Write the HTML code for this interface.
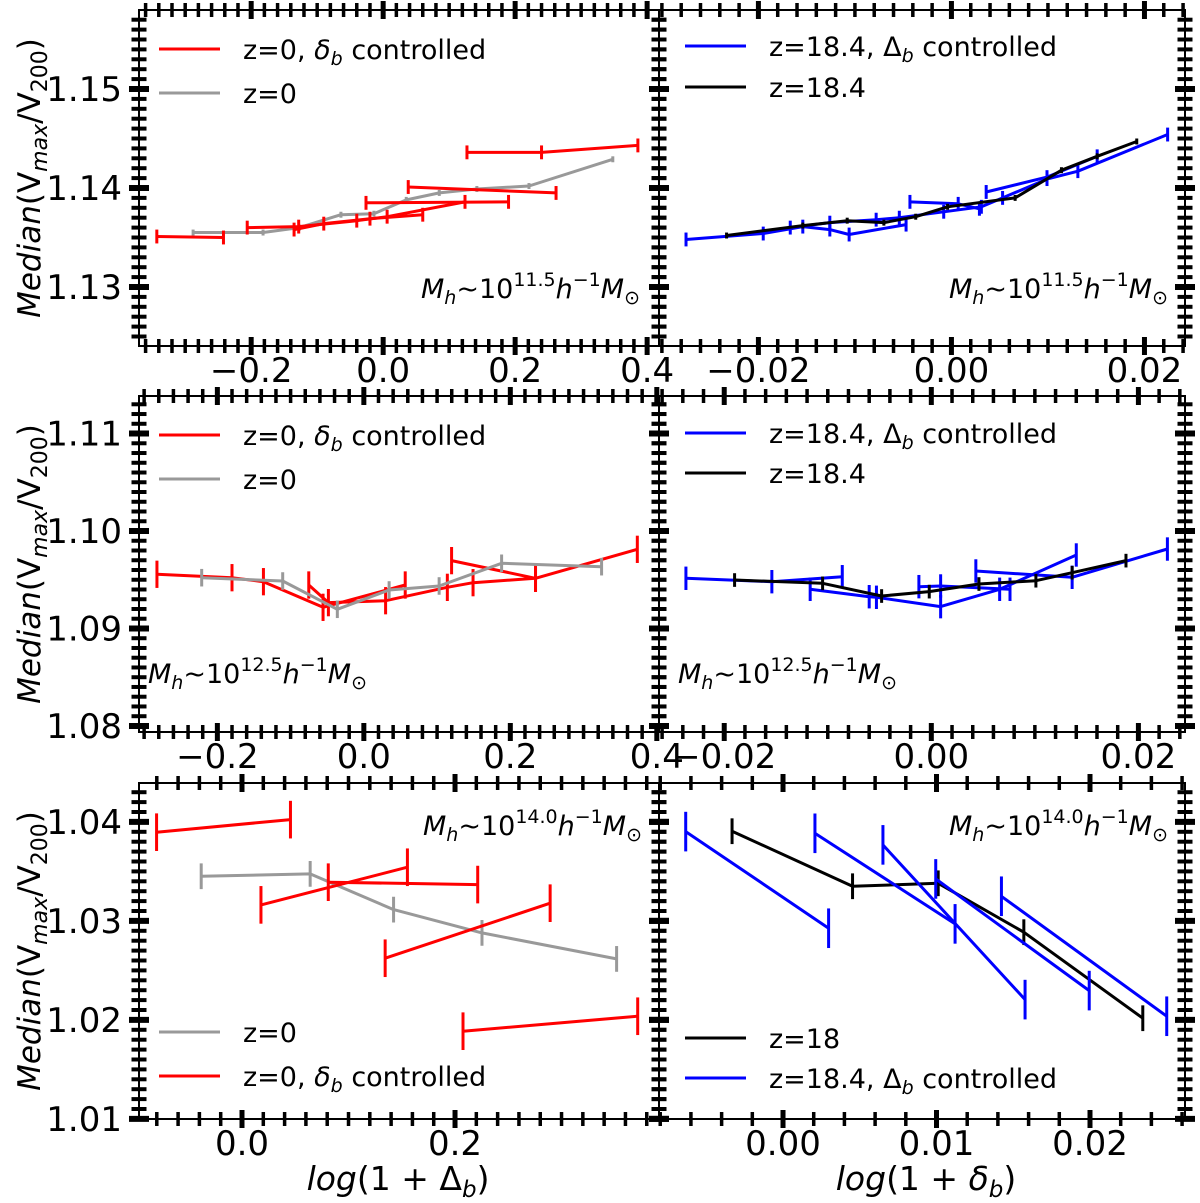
<!DOCTYPE html>
<html><head><meta charset="utf-8">
<style>
html,body{margin:0;padding:0;background:#fff;}
svg{display:block;font-family:"DejaVu Sans","Liberation Sans",sans-serif;}
</style></head>
<body>
<svg id="fig" width="1200" height="1203" viewBox="0 0 1200 1203" xmlns="http://www.w3.org/2000/svg"></svg>
<script>
// ---------- DATA ----------
// Top-left panel (Mh ~ 10^11.5, x = log(1+Delta_b))
const tlRedX = [[-0.343,-0.242],[-0.206,-0.128,-0.040,0.006,0.124],[-0.135,-0.090,-0.020,0.060],[-0.026,0.190],[0.038,0.262],[0.127,0.240,0.386]];
const tlRedY = [[1.1351,1.1350],[1.1360,1.1361,1.1367,1.1371,1.1386],[1.1358,1.1364,1.1369,1.1373],[1.1385,1.1386],[1.1401,1.1395],[1.1436,1.1436,1.1443]];
const tlGreyX = [-0.288,-0.182,-0.127,-0.064,-0.014,0.035,0.085,0.142,0.221,0.348];
const tlGreyY = [1.1355,1.1355,1.1360,1.1373,1.1374,1.1388,1.1395,1.1399,1.1402,1.1429];
// Top-right panel
const trBlueX = [[-0.0275,-0.0195,-0.0154,-0.0126,-0.0106,-0.0047],[-0.0167,-0.0126,-0.0078,-0.0054,-0.0008,0.0031,0.0053,0.0099,0.0131,0.0224],[-0.0043,0.0007,0.0029],[0.0036,0.0099,0.0151]];
const trBlueY = [[1.1348,1.1354,1.1361,1.1358,1.1353,1.1363],[1.1360,1.1365,1.1368,1.1370,1.1376,1.1381,1.1390,1.1409,1.1417,1.1454],[1.1386,1.1384,1.1379],[1.1396,1.1411,1.1432]];
const trBlackX = [-0.0233,-0.0154,-0.0108,-0.0070,-0.0037,-0.0004,0.0066,0.0114,0.0151,0.0192];
const trBlackY = [1.1352,1.1362,1.1367,1.1365,1.1371,1.1381,1.1390,1.1418,1.1432,1.1447];
// Middle-left panel (Mh ~ 10^12.5)
const mlRedX = [[-0.2825,-0.1800,-0.1371,-0.0557,0.0565],[-0.0752,-0.0484,0.0297,0.1140,0.1491,0.2344,0.3734],[0.1198,0.2344]];
const mlRedY = [[1.09556,1.09521,1.09480,1.09217,1.09446],[1.09446,1.09265,1.09285,1.09422,1.09470,1.09515,1.09812],[1.09696,1.09515]];
const mlGreyX = [-0.2214,-0.1108,-0.0362,0.0345,0.1028,0.1881,0.3246];
const mlGreyY = [1.09521,1.09487,1.09197,1.09395,1.09436,1.09669,1.09634];
// Middle-right panel
const mrBlueX = [[-0.0237,-0.0154,-0.0086],[-0.0117,-0.0060,-0.0053,0.0009,0.0066,0.0140],[-0.0012,0.0009,0.0076],[0.0043,0.0136,0.0228]];
const mrBlueY = [[1.09515,1.09480,1.09531],[1.09402,1.09326,1.09320,1.09224,1.09402,1.09754],[1.09429,1.09436,1.09402],[1.09590,1.09525,1.09815]];
const mrBlackX = [-0.0190,-0.0105,-0.0048,-0.0002,0.0046,0.0101,0.0136,0.0188];
const mrBlackY = [1.09497,1.09463,1.09333,1.09378,1.09456,1.09490,1.09572,1.09696];
// Bottom-left panel (Mh ~ 10^14.0)
const blRedX = [[-0.0802,0.0455],[0.0178,0.1553],[0.0810,0.2213],[0.1344,0.2893],[0.2075,0.3715]];
const blRedY = [[1.03896,1.04023],[1.03162,1.03542],[1.03391,1.03367],[1.02623,1.03179],[1.01886,1.02037]];
const blGreyX = [-0.0383,0.0640,0.1423,0.2253,0.3517];
const blGreyY = [1.03451,1.03475,1.03114,1.02879,1.02616];
// Bottom-right panel
const brBlueX = [[-0.00634,0.00297],[0.00208,0.01121],[0.00651,0.01577],[0.00995,0.01995],[0.01423,0.02500]];
const brBlueY = [[1.03902,1.02926],[1.03885,1.02970],[1.03768,1.02205],[1.03424,1.02296],[1.03249,1.02037]];
const brBlackX = [-0.00332,0.00453,0.01011,0.01569,0.02344];
const brBlackY = [1.03906,1.03350,1.03380,1.02886,1.02017];
// error half-widths
const errTop = {red:0.0007, grey:0.0003, blue:0.0007, black:0.0003};
const errMid = {red:0.0014, grey:0.0009, blue:0.0012, black:0.0007};
const errBot = {red:0.0019, grey:0.0013, blue:0.0020, black:0.0013};

// ---------- LAYOUT ----------
const NS = "http://www.w3.org/2000/svg";
const svg = document.getElementById('fig');
function el(tag, attrs, parent){
  const e = document.createElementNS(NS, tag);
  for (const k in attrs) e.setAttribute(k, attrs[k]);
  (parent||svg).appendChild(e);
  return e;
}
const panels = [
  {id:'top-left', x0:139,x1:659,y0:10,y1:346, xmin:-0.370,xmax:0.418,ymin:1.12404,ymax:1.15798, xMaj:0.2,xMin:0.02,xDec:1, yMaj:0.01,yMin:0.001, yLabels:true},
  {id:'top-right', x0:659,x1:1185,y0:10,y1:346, xmin:-0.0303,xmax:0.0242,ymin:1.12404,ymax:1.15798, xMaj:0.02,xMin:0.002,xDec:2, yMaj:0.01,yMin:0.001, yLabels:false},
  {id:'middle-left', x0:139,x1:659,y0:396,y1:732, xmin:-0.307,xmax:0.403,ymin:1.07938,ymax:1.11385, xMaj:0.2,xMin:0.02,xDec:1, yMaj:0.01,yMin:0.001, yLabels:true},
  {id:'middle-right', x0:659,x1:1185,y0:396,y1:732, xmin:-0.0263,xmax:0.0245,ymin:1.07938,ymax:1.11385, xMaj:0.02,xMin:0.002,xDec:2, yMaj:0.01,yMin:0.001, yLabels:false},
  {id:'bottom-left', x0:139,x1:659,y0:783,y1:1119, xmin:-0.0967,xmax:0.3915,ymin:1.00999,ymax:1.04393, xMaj:0.2,xMin:0.02,xDec:1, yMaj:0.01,yMin:0.001, yLabels:true},
  {id:'bottom-right', x0:659,x1:1185,y0:783,y1:1119, xmin:-0.00808,xmax:0.02619,ymin:1.00999,ymax:1.04393, xMaj:0.01,xMin:0.002,xDec:2, yMaj:0.01,yMin:0.001, yLabels:false}
];
function sx(p,v){return p.x0+(v-p.xmin)/(p.xmax-p.xmin)*(p.x1-p.x0);}
function sy(p,v){return p.y1-(v-p.ymin)/(p.ymax-p.ymin)*(p.y1-p.y0);}
function fmt(v,d){const s=Math.abs(v).toFixed(d);return (v< -1e-9?'\u2212':'')+s;}

const defs = el('defs',{});
panels.forEach(p=>{
  const cp = el('clipPath',{id:'clip-'+p.id},defs);
  el('rect',{x:p.x0,y:p.y0,width:p.x1-p.x0,height:p.y1-p.y0},cp);
});

function drawAxes(p){
  const g = el('g',{});
  
  
  const kx0=Math.ceil(p.xmin/p.xMin-1e-6), kx1=Math.floor(p.xmax/p.xMin+1e-6);
  for(let k=kx0;k<=kx1;k++){
    const v=k*p.xMin; const major=Math.abs(v/p.xMaj-Math.round(v/p.xMaj))<1e-6;
    const x=sx(p,v); const L=major?9:7, w=major?5:3.5;
    el('line',{x1:x,x2:x,y1:p.y1-L,y2:p.y1+L,stroke:'#000','stroke-width':w},g);
    el('line',{x1:x,x2:x,y1:p.y0-L,y2:p.y0+L,stroke:'#000','stroke-width':w},g);
    if(major){
      const t=el('text',{x:x,y:p.y1+36,'font-size':34,'text-anchor':'middle',fill:'#000'},g);
      t.textContent=fmt(v,p.xDec);
      
      
    }
  }
  const ky0=Math.ceil(p.ymin/p.yMin-1e-6), ky1=Math.floor(p.ymax/p.yMin+1e-6);
  for(let k=ky0;k<=ky1;k++){
    const v=k*p.yMin; const major=Math.abs(v/p.yMaj-Math.round(v/p.yMaj))<1e-6;
    const y=sy(p,v); const L=major?10:7.5, w=major?6:4;
    el('line',{x1:p.x0-L,x2:p.x0+L,y1:y,y2:y,stroke:'#000','stroke-width':w},g);
    el('line',{x1:p.x1-L,x2:p.x1+L,y1:y,y2:y,stroke:'#000','stroke-width':w},g);
    if(major && p.yLabels){
      const t=el('text',{x:p.x0-17,y:y+12,'font-size':34,'text-anchor':'end',fill:'#000'},g);
      t.textContent=v.toFixed(2);
      
      
    }
  }
  const fr = el('rect',{x:p.x0,y:p.y0,width:p.x1-p.x0,height:p.y1-p.y0,fill:'none',stroke:'#000','stroke-width':2},g);
  
  
}

function drawSeries(p, xs, ys, color, err, name){
  const g = el('g',{'clip-path':'url(#clip-'+p.id+')'});
  
  
  const pts = xs.map((x,i)=>sx(p,x).toFixed(1)+','+sy(p,ys[i]).toFixed(1)).join(' ');
  el('polyline',{points:pts,fill:'none',stroke:color,'stroke-width':3,'stroke-linejoin':'round'},g);
  xs.forEach((x,i)=>{
    const X=sx(p,x);
    const eb = el('line',{x1:X,x2:X,y1:sy(p,ys[i]-err),y2:sy(p,ys[i]+err),stroke:color,'stroke-width':3},g);
    
    
  });
}

function legend(x, y, items, key){
  const g = el('g',{});
  
  
  items.forEach((it,i)=>{
    const yy=y+i*it.dy;
    el('line',{x1:x,x2:x+61,y1:yy,y2:yy,stroke:it.color,'stroke-width':3},g);
    const t=el('text',{x:x+84,y:yy+10,'font-size':27,fill:'#000'},g);
    t.innerHTML=it.html;
    
    
  });
}
const LBL_DELTA_S = 'z=0, <tspan font-style="italic">δ</tspan><tspan font-style="italic" font-size="19" dy="6">b</tspan><tspan dy="-6"> controlled</tspan>';
const LBL_DELTA_L = 'z=18.4, Δ<tspan font-style="italic" font-size="19" dy="6">b</tspan><tspan dy="-6"> controlled</tspan>';
function mh(x, y, exp, anchor, key){
  const t=el('text',{x:x,y:y,'font-size':27,'text-anchor':anchor,fill:'#000'});
  t.innerHTML='<tspan font-style="italic">M</tspan><tspan font-style="italic" font-size="19" dy="6">h</tspan><tspan dy="-6">~10</tspan><tspan font-size="19" dy="-12">'+exp+'</tspan><tspan font-style="italic" dy="12">h</tspan><tspan font-size="19" dy="-12">−1</tspan><tspan font-style="italic" dy="12">M</tspan><tspan font-size="19" dy="6">⊙</tspan>';
  
  
}

panels.forEach(drawAxes);
const [TL,TR,ML,MR,BL,BR]=panels;
drawSeries(TL, tlGreyX, tlGreyY, '#999999', errTop.grey, 'tl-z0-line');
tlRedX.forEach((xs,i)=>drawSeries(TL, xs, tlRedY[i], '#ff0000', errTop.red, 'tl-controlled-line'));
trBlueX.forEach((xs,i)=>drawSeries(TR, xs, trBlueY[i], '#0000ff', errTop.blue, 'tr-controlled-line'));
drawSeries(TR, trBlackX, trBlackY, '#000000', errTop.black, 'tr-z18-line');
mlRedX.forEach((xs,i)=>drawSeries(ML, xs, mlRedY[i], '#ff0000', errMid.red, 'ml-controlled-line'));
drawSeries(ML, mlGreyX, mlGreyY, '#999999', errMid.grey, 'ml-z0-line');
mrBlueX.forEach((xs,i)=>drawSeries(MR, xs, mrBlueY[i], '#0000ff', errMid.blue, 'mr-controlled-line'));
drawSeries(MR, mrBlackX, mrBlackY, '#000000', errMid.black, 'mr-z18-line');
drawSeries(BL, blGreyX, blGreyY, '#999999', errBot.grey, 'bl-z0-line');
blRedX.forEach((xs,i)=>drawSeries(BL, xs, blRedY[i], '#ff0000', errBot.red, 'bl-controlled-line'));
drawSeries(BR, brBlackX, brBlackY, '#000000', errBot.black, 'br-z18-line');
brBlueX.forEach((xs,i)=>drawSeries(BR, xs, brBlueY[i], '#0000ff', errBot.blue, 'br-controlled-line'));

legend(159, 49, [{color:'#ff0000',html:LBL_DELTA_S,dy:44},{color:'#999999',html:'z=0',dy:44}], 'top-left');
legend(685, 46, [{color:'#0000ff',html:LBL_DELTA_L,dy:41},{color:'#000000',html:'z=18.4',dy:41}], 'top-right');
legend(159, 435, [{color:'#ff0000',html:LBL_DELTA_S,dy:44},{color:'#999999',html:'z=0',dy:44}], 'middle-left');
legend(685, 433, [{color:'#0000ff',html:LBL_DELTA_L,dy:40},{color:'#000000',html:'z=18.4',dy:40}], 'middle-right');
legend(159, 1032, [{color:'#999999',html:'z=0',dy:44},{color:'#ff0000',html:LBL_DELTA_S,dy:44}], 'bottom-left');
legend(685, 1038, [{color:'#000000',html:'z=18',dy:40},{color:'#0000ff',html:LBL_DELTA_L,dy:40}], 'bottom-right');

mh(640, 298, '11.5', 'end', 'top-left');
mh(1168, 298, '11.5', 'end', 'top-right');
mh(148, 683, '12.5', 'start', 'middle-left');
mh(678, 683, '12.5', 'start', 'middle-right');
mh(642, 835, '14.0', 'end', 'bottom-left');
mh(1168, 835, '14.0', 'end', 'bottom-right');

[178, 564, 951].forEach((cy,i)=>{
  const t=el('text',{x:0,y:0,'font-size':31,'text-anchor':'middle',fill:'#000',transform:'translate(40,'+cy+') rotate(-90)'});
  t.innerHTML='<tspan font-style="italic">Median</tspan>(V<tspan font-style="italic" font-size="22" dy="7">max</tspan><tspan dy="-7">/V</tspan><tspan font-size="22" dy="7">200</tspan><tspan dy="-7">)</tspan>';
  
  
});
const xt1=el('text',{x:398,y:1190,'font-size':33,'text-anchor':'middle',fill:'#000'});
xt1.innerHTML='<tspan font-style="italic">log</tspan>(1 + Δ<tspan font-style="italic" font-size="23" dy="7">b</tspan><tspan dy="-7">)</tspan>';


const xt2=el('text',{x:926,y:1190,'font-size':33,'text-anchor':'middle',fill:'#000'});
xt2.innerHTML='<tspan font-style="italic">log</tspan>(1 + <tspan font-style="italic">δ</tspan><tspan font-style="italic" font-size="23" dy="7">b</tspan><tspan dy="-7">)</tspan>';


</script>
</body></html>
